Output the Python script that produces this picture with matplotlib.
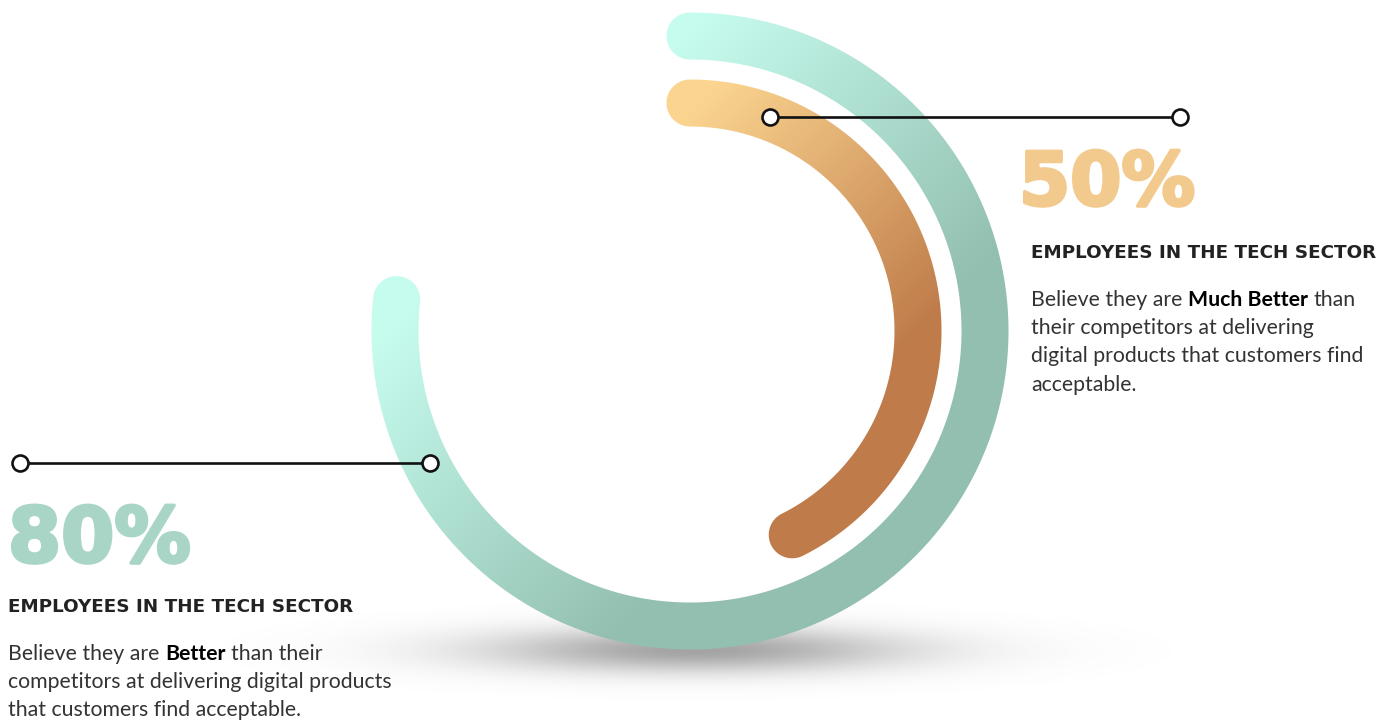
import numpy as np
import matplotlib
matplotlib.use("Agg")
import matplotlib.pyplot as plt
from matplotlib.path import Path
from matplotlib.patches import PathPatch
from matplotlib.colors import to_rgb
import matplotlib.patheffects as pe

# ---------------- data ----------------
values = [80, 50]                       # outer ring, inner ring
value_labels = ["80%", "50%"]
arc_share = [76.7, 42.6]                # visible arc length (% of full circle) as drawn in the picture
headings = ["EMPLOYEES IN THE TECH SECTOR", "EMPLOYEES IN THE TECH SECTOR"]
body_left = [
    [("Believe they are", False), ("Better", True), ("than their", False)],
    [("competitors at delivering digital products", False)],
    [("that customers find acceptable.", False)],
]
body_right = [
    [("Believe they are", False), ("Much Better", True), ("than", False)],
    [("their competitors at delivering", False)],
    [("digital products that customers find", False)],
    [("acceptable.", False)],
]
ring_light = ["#c6fcee", "#fbd590"]
ring_dark = ["#93bfb0", "#bf7c4a"]
label_colors = ["#a8d5c6", "#f3ca8d"]

# ---------------- figure ----------------
W, H = 1394, 721
fig = plt.figure(figsize=(W / 100, H / 100), dpi=100)
ax = fig.add_axes([0, 0, 1, 1])
ax.set_xlim(0, W)
ax.set_ylim(H, 0)
ax.axis("off")

cx, cy = 690, 331
radii = [295, 228]
width = 47
start_deg = 90


def arc_path(r, w, start, sweep):
    th = np.radians(np.linspace(start, start - sweep, 500))
    ro, ri = r + w / 2, r - w / 2
    outer = np.column_stack([cx + ro * np.cos(th), cy - ro * np.sin(th)])
    te = th[-1]
    ex, ey = cx + r * np.cos(te), cy - r * np.sin(te)
    ca = np.linspace(te, te - np.pi, 80)
    cap_e = np.column_stack([ex + w / 2 * np.cos(ca), ey - w / 2 * np.sin(ca)])
    thr = th[::-1]
    inner = np.column_stack([cx + ri * np.cos(thr), cy - ri * np.sin(thr)])
    ts = th[0]
    sx, sy = cx + r * np.cos(ts), cy - r * np.sin(ts)
    ca2 = np.linspace(ts + np.pi, ts, 80)
    cap_s = np.column_stack([sx + w / 2 * np.cos(ca2), sy - w / 2 * np.sin(ca2)])
    verts = np.vstack([outer, cap_e, inner, cap_s, outer[:1]])
    codes = [Path.MOVETO] + [Path.LINETO] * (len(verts) - 2) + [Path.CLOSEPOLY]
    return Path(verts, codes)


xx, yy = np.meshgrid(np.arange(W) + 0.5, np.arange(H) + 0.5)
ssum = xx + yy

# shadow under the ring
shadow = np.exp(-(((xx - 695) / 150.0) ** 2) / 2 - (((yy - 650) / 16.0) ** 2) / 2)
sh_img = np.zeros((H, W, 4))
sh_img[..., :3] = 0.42
sh_img[..., 3] = 0.62 * shadow
ax.imshow(sh_img, extent=(0, W, H, 0), origin="upper", zorder=1, interpolation="bilinear")

grad_ranges = [(720, 1250), (800, 1250)]
for i in range(2):
    sweep = arc_share[i] / 100 * 360
    p = arc_path(radii[i], width, start_deg, sweep)
    patch = PathPatch(p, facecolor="none", edgecolor="none", transform=ax.transData)
    ax.add_patch(patch)
    s0, s1 = grad_ranges[i]
    t = np.clip((ssum - s0) / (s1 - s0), 0, 1)[..., None]
    c0 = np.array(to_rgb(ring_light[i]))
    c1 = np.array(to_rgb(ring_dark[i]))
    img = c0 * (1 - t) + c1 * t
    im = ax.imshow(img, extent=(0, W, H, 0), origin="upper", zorder=2, interpolation="bilinear")
    im.set_clip_path(patch)

# connector lines
lk = dict(color="#111111", lw=1.9, marker="o", markersize=11.5, markerfacecolor="white",
          markeredgecolor="#111111", markeredgewidth=1.9, zorder=5, solid_capstyle="butt")
ax.plot([20, 430], [463, 463], **lk)
ax.plot([770, 1180], [117, 117], **lk)

# big numbers
ax.text(8, 562, value_labels[0], fontsize=55, family="DejaVu Sans", weight="bold",
        color=label_colors[0], va="baseline", ha="left",
        path_effects=[pe.withStroke(linewidth=2.5, foreground=label_colors[0])])
ax.text(1019, 205, value_labels[1], fontsize=53, family="DejaVu Sans", weight="bold",
        color=label_colors[1], va="baseline", ha="left",
        path_effects=[pe.withStroke(linewidth=2.5, foreground=label_colors[1])])

# headings
hk = dict(fontsize=13.2, family="DejaVu Sans", weight="bold", color="#222222",
          va="baseline", ha="left")
ax.text(8, 612, headings[0], **hk)
ax.text(1031, 258, headings[1], **hk)

renderer = fig.canvas.get_renderer()
BODY_SIZE = 15.3


def text_w(s, bold):
    t = ax.text(0, 0, s, fontsize=BODY_SIZE, family="Lato", weight="bold" if bold else "normal")
    w = t.get_window_extent(renderer).width
    t.remove()
    return w


space_w = text_w("a a", False) - text_w("aa", False)


def draw_body(x0, y0, lines, step=28.2):
    for li, segs in enumerate(lines):
        x = x0
        y = y0 + li * step
        for text, bold in segs:
            t = ax.text(x, y, text, fontsize=BODY_SIZE, family="Lato",
                        weight="bold" if bold else "normal",
                        color="#000000" if bold else "#333333", va="baseline", ha="left")
            x += t.get_window_extent(renderer).width + space_w


draw_body(8, 660, body_left)
draw_body(1031, 306, body_right)

fig.savefig("out.png", dpi=100)
